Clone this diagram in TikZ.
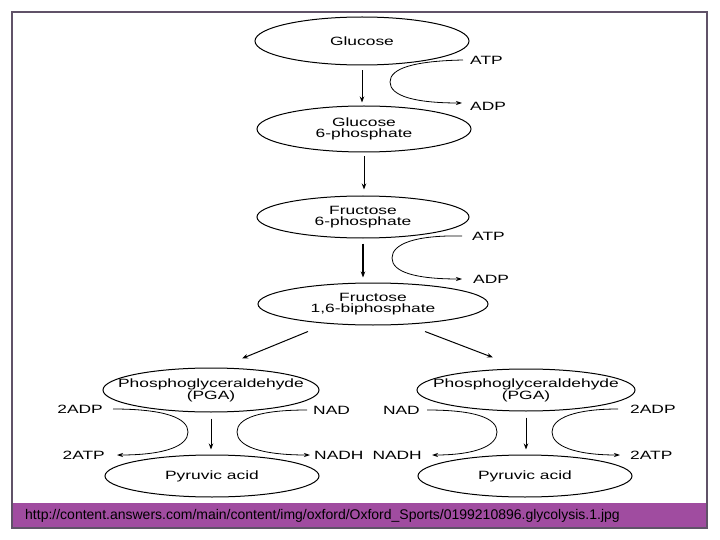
\documentclass[tikz,border=0pt]{standalone}
\usepackage{fontspec}
\setmainfont{Liberation Sans}
\usetikzlibrary{arrows.meta,shapes.geometric}

\definecolor{framegray}{RGB}{96,82,104}
\definecolor{bandpurple}{RGB}{160,76,160}

\newcommand{\stretchlbl}[1]{\scalebox{1.45}[1]{#1}}
\newcommand{\stagetxt}[1]{\makebox[0pt]{\stretchlbl{#1}}}

\begin{document}
\begin{tikzpicture}[x=1pt,y=-1pt,
    stage/.style={draw,ellipse,line width=1pt,inner sep=0pt,align=center,font=\fontsize{12}{11}\selectfont},
    cof/.style={inner ysep=0pt,font=\fontsize{12}{12}\selectfont},
    flow/.style={-{Stealth[length=6pt,width=4.5pt]},line width=1pt},
    cofarrow/.style={-{Stealth[length=6pt,width=4pt]},line width=0.8pt}]
    \useasboundingbox (0,0) rectangle (720,540);

    \node[stage,minimum width=214pt,minimum height=48pt] (glc) at (362,41) {\stagetxt{Glucose}};
    \node[stage,minimum width=214pt,minimum height=46pt] (g6p) at (364,129) {\stagetxt{Glucose}\\\stagetxt{6-phosphate}};
    \node[stage,minimum width=212pt,minimum height=42pt] (f6p) at (363,217) {\stagetxt{Fructose}\\\stagetxt{6-phosphate}};
    \node[stage,minimum width=230pt,minimum height=42pt] (fbp) at (373,304) {\stagetxt{Fructose}\\\stagetxt{1,6-biphosphate}};
    \node[stage,minimum width=216pt,minimum height=44pt] (pgaL) at (211,390) {\stagetxt{Phosphoglyceraldehyde}\\\stagetxt{(PGA)}};
    \node[stage,minimum width=214pt,minimum height=42pt] (pyrL) at (212,476) {\stagetxt{Pyruvic acid}};
    \node[stage,minimum width=218pt,minimum height=42pt] (pgaR) at (526,390) {\stagetxt{Phosphoglyceraldehyde}\\\stagetxt{(PGA)}};
    \node[stage,minimum width=214pt,minimum height=42pt] (pyrR) at (525,476) {\stagetxt{Pyruvic acid}};

    \draw[flow,shorten <=5pt,shorten >=3pt] (glc.south) -- (glc.south |- g6p.north);
    \draw[flow,shorten <=4pt,shorten >=6pt] (g6p.south) -- (g6p.south |- f6p.north);
    \draw[flow,line width=1.8pt,shorten <=5pt,shorten >=5pt] (f6p.south) -- (f6p.south |- fbp.north);
    \draw[flow] ([xshift=-65pt,yshift=-6pt]fbp.south) -- ([xshift=31pt,yshift=9pt]pgaL.north);
    \draw[flow] ([xshift=52pt,yshift=-6pt]fbp.south) -- ([xshift=-33pt,yshift=11pt]pgaR.north);
    \draw[flow,shorten <=6pt,shorten >=5pt] (pgaL.south) -- (pgaL.south |- pyrL.north);
    \draw[flow,shorten <=6pt,shorten >=5pt] (pgaR.south) -- (pgaR.south |- pyrR.north);

    \node[cof,anchor=west,inner xsep=7pt] (atpA) at (463,60) {\stretchlbl{ATP}};
    \node[cof,anchor=west,inner xsep=8pt] (adpA) at (462,106) {\stretchlbl{ADP}};
    \node[cof,anchor=west,inner xsep=10pt] (atpB) at (462,236) {\stretchlbl{ATP}};
    \node[cof,anchor=west,inner xsep=11pt] (adpB) at (462,279) {\stretchlbl{ADP}};
    \node[cof,anchor=east,inner xsep=10pt] (adpL) at (113,409) {\stretchlbl{2ADP}};
    \node[cof,anchor=east,inner xsep=12pt] (atpL) at (117,455) {\stretchlbl{2ATP}};
    \node[cof,anchor=west,inner xsep=6pt] (nadL) at (307,410) {\stretchlbl{NAD}};
    \node[cof,anchor=west,inner xsep=4pt] (nadhL) at (310,455) {\stretchlbl{NADH}};
    \node[cof,anchor=east,inner xsep=7pt] (nadR) at (427,410) {\stretchlbl{NAD}};
    \node[cof,anchor=east,inner xsep=10pt] (nadhR) at (432,455) {\stretchlbl{NADH}};
    \node[cof,anchor=west,inner xsep=12pt] (adpR) at (618,409) {\stretchlbl{2ADP}};
    \node[cof,anchor=west,inner xsep=10pt] (atpR) at (620,455) {\stretchlbl{2ATP}};

    \draw[cofarrow] (atpA.west) .. controls (415,61) and (390,68) .. (390,82) .. controls (390,96) and (415,103) .. ([yshift=3pt]adpA.west);
    \draw[cofarrow] (atpB.west) .. controls (415,235) and (392,244) .. (392,258) .. controls (392,272) and (415,279) .. (adpB.west);
    \draw[cofarrow] (adpL.east) .. controls (165,409) and (188,418) .. (188,432) .. controls (188,446) and (165,455) .. (atpL.east);
    \draw[cofarrow] (nadL.west) .. controls (260,410) and (237,418) .. (237,432) .. controls (237,446) and (260,455) .. (nadhL.west);
    \draw[cofarrow] (nadR.east) .. controls (475,410) and (497,418) .. (497,432) .. controls (497,446) and (475,455) .. (nadhR.east);
    \draw[cofarrow] (adpR.west) .. controls (575,409) and (552,418) .. (552,432) .. controls (552,446) and (575,455) .. (atpR.west);

    \fill[bandpurple] (12,503) rectangle (707,528);
    \draw[framegray,line width=1.2pt] (12,12) rectangle (707,528);
    \node[anchor=west,inner sep=0pt,font=\fontsize{14}{14}\selectfont] (src) at (25,516) {http://content.answers.com/main/content/img/oxford/Oxford\_Sports/0199210896.glycolysis.1.jpg};
\end{tikzpicture}
\end{document}
